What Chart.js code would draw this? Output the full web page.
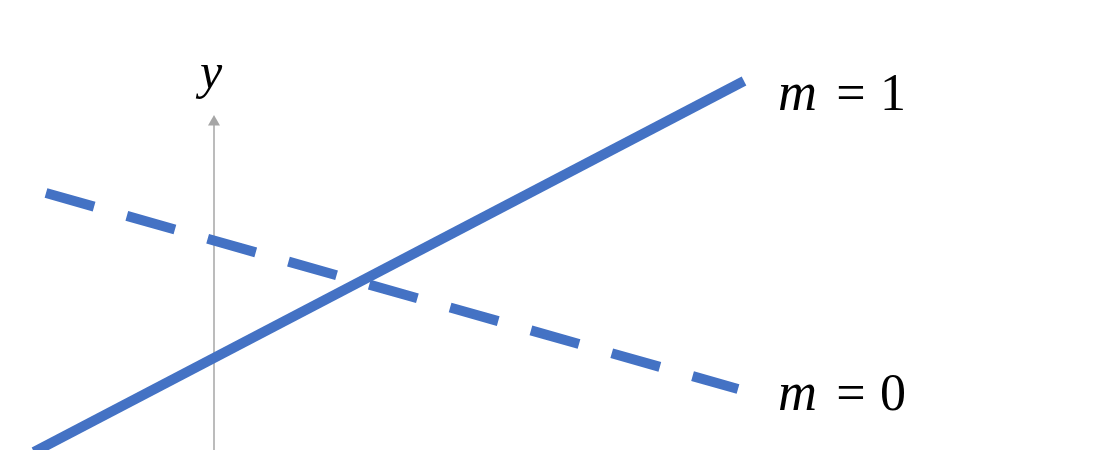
<!DOCTYPE html>
<html>
<head>
<meta charset="utf-8">
<script src="https://cdn.jsdelivr.net/npm/chart.js@4/dist/chart.umd.min.js"></script>
<style>
  html, body { margin: 0; padding: 0; background: #fff; }
  #wrap { width: 1100px; height: 450px; position: relative; }
</style>
</head>
<body>
<div id="wrap"><canvas id="chart" width="1100" height="450"></canvas></div>
<script>
'use strict';

// ── Datos (coordenadas del dibujo, eje y en x = 0) ─────
const solidX  = [-1.80, 5.30];
const solidY  = [-0.02, 3.69];
const dashedX = [-1.68, 5.24];
const dashedY = [2.57, 0.61];
const axisX   = [0, 0];
const axisY   = [0, 3.28];

// Etiquetas
const axisLabel   = 'y';
const axisLabelX  = -0.03;
const axisLabelY  = 3.62;
const slopeLabels = ['m = 1', 'm = 0'];
const slopeLabelX = [5.64, 5.64];
const slopeLabelY = [3.40, 0.40];

// ── Paleta ─────
const BLUE = '#4472C4';
const GREY = '#A6A6A6';

const pts = (xs, ys) => xs.map((x, i) => ({ x, y: ys[i] }));

// Texto matemático dibujado sobre el canvas
const labelsPlugin = {
  id: 'mathLabels',
  afterDatasetsDraw(chart) {
    const { ctx, scales: { x, y } } = chart;
    ctx.save();
    ctx.fillStyle = '#000';
    ctx.textBaseline = 'alphabetic';

    ctx.font = 'italic 50px "Liberation Serif"';
    ctx.textAlign = 'center';
    ctx.fillText(axisLabel, x.getPixelForValue(axisLabelX), y.getPixelForValue(axisLabelY));

    slopeLabels.forEach((txt, i) => {
      const [name, val] = txt.split(' = ');
      const px = x.getPixelForValue(slopeLabelX[i]);
      const py = y.getPixelForValue(slopeLabelY[i]);
      ctx.textAlign = 'left';
      ctx.font = 'italic 54px "Liberation Serif"';
      ctx.fillText(name, px, py);
      ctx.font = '52px "Liberation Serif"';
      ctx.textAlign = 'center';
      ctx.fillText('=', px + 73, py);
      ctx.fillText(val, px + 115, py);
    });
    ctx.restore();
  }
};

new Chart(document.getElementById('chart'), {
  type: 'scatter',
  data: {
    datasets: [
      {
        data: pts(solidX, solidY),
        showLine: true,
        borderColor: BLUE,
        borderWidth: 10,
        borderCapStyle: 'butt',
        pointRadius: 0,
        order: 1
      },
      {
        data: pts(dashedX, dashedY),
        showLine: true,
        borderColor: BLUE,
        borderWidth: 10,
        borderDash: [50, 34],
        borderCapStyle: 'butt',
        pointRadius: 0,
        order: 2
      },
      {
        data: pts(axisX, axisY),
        showLine: true,
        borderColor: GREY,
        borderWidth: 1.5,
        pointRadius: [0, 6.93],
        pointStyle: 'triangle',
        pointBackgroundColor: GREY,
        pointBorderWidth: 0,
        order: 3
      }
    ]
  },
  options: {
    responsive: false,
    animation: false,
    devicePixelRatio: 1,
    layout: { padding: 0, autoPadding: false },
    plugins: {
      legend: { display: false },
      tooltip: { enabled: false }
    },
    scales: {
      x: { type: 'linear', min: -2.14, max: 8.86, display: false },
      y: { type: 'linear', min: 0, max: 4.5, display: false }
    }
  },
  plugins: [labelsPlugin]
});
</script>
</body>
</html>
